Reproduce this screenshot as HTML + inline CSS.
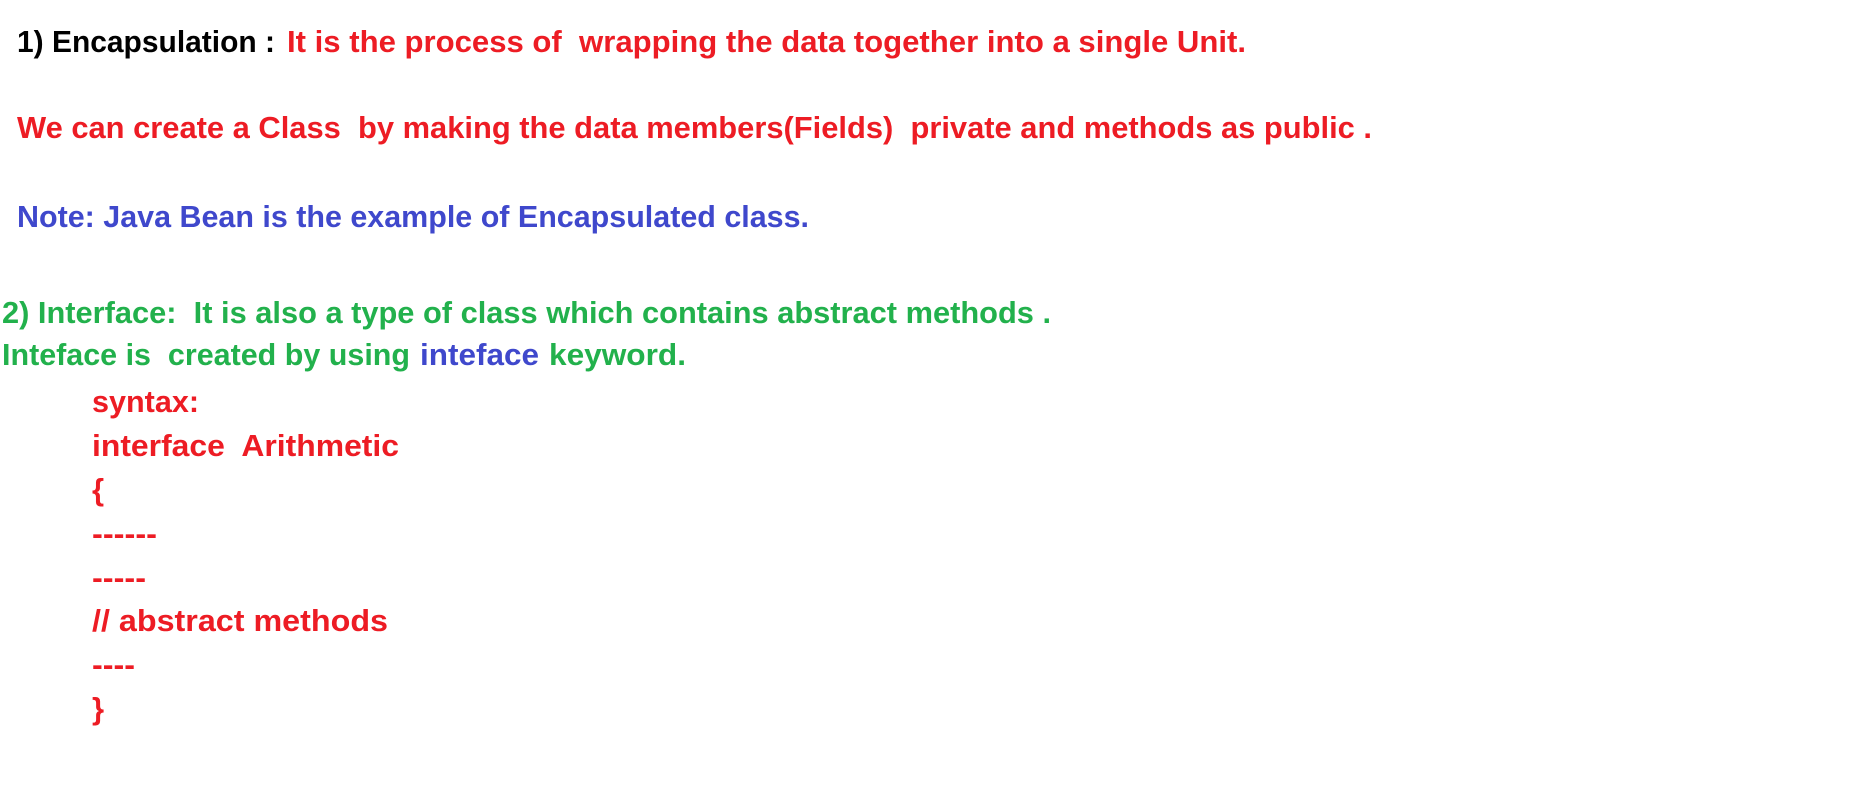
<!DOCTYPE html>
<html><head><meta charset="utf-8"><style>
html,body{margin:0;padding:0;background:#fff;}
svg{display:block;}
text{font-family:"Liberation Sans",sans-serif;font-weight:bold;font-size:31px;white-space:pre;}
.r{fill:#ed1c24}.b{fill:#3f48cc}.g{fill:#22b14c}.k{fill:#000}
</style></head><body>
<svg width="1855" height="810" xmlns="http://www.w3.org/2000/svg" xml:space="preserve">
<text x="17" y="52" class="k" textLength="258" lengthAdjust="spacingAndGlyphs">1) Encapsulation :</text>
<text x="287" y="52" class="r" textLength="959" lengthAdjust="spacingAndGlyphs">It is the process of  wrapping the data together into a single Unit.</text>
<text x="17" y="138" class="r" textLength="1355" lengthAdjust="spacingAndGlyphs">We can create a Class  by making the data members(Fields)  private and methods as public .</text>
<text x="17" y="227" class="b" textLength="792" lengthAdjust="spacingAndGlyphs">Note: Java Bean is the example of Encapsulated class.</text>
<text x="2" y="323" class="g" textLength="1049" lengthAdjust="spacingAndGlyphs">2) Interface:  It is also a type of class which contains abstract methods .</text>
<text x="2" y="365" class="g" textLength="408" lengthAdjust="spacingAndGlyphs">Inteface is  created by using</text>
<text x="420" y="365" class="b" textLength="119" lengthAdjust="spacingAndGlyphs">inteface</text>
<text x="549" y="365" class="g" textLength="137" lengthAdjust="spacingAndGlyphs">keyword.</text>
<text x="92" y="412" class="r" textLength="107" lengthAdjust="spacingAndGlyphs">syntax:</text>
<text x="92" y="456" class="r" textLength="307" lengthAdjust="spacingAndGlyphs">interface  Arithmetic</text>
<text x="92" y="500" class="r">{</text>
<text x="92" y="544" class="r" textLength="65" lengthAdjust="spacingAndGlyphs">------</text>
<text x="92" y="588" class="r" textLength="54" lengthAdjust="spacingAndGlyphs">-----</text>
<text x="92" y="631" class="r" textLength="296" lengthAdjust="spacingAndGlyphs">// abstract methods</text>
<text x="92" y="675" class="r" textLength="43" lengthAdjust="spacingAndGlyphs">----</text>
<text x="92" y="719" class="r">}</text>
</svg>
</body></html>
